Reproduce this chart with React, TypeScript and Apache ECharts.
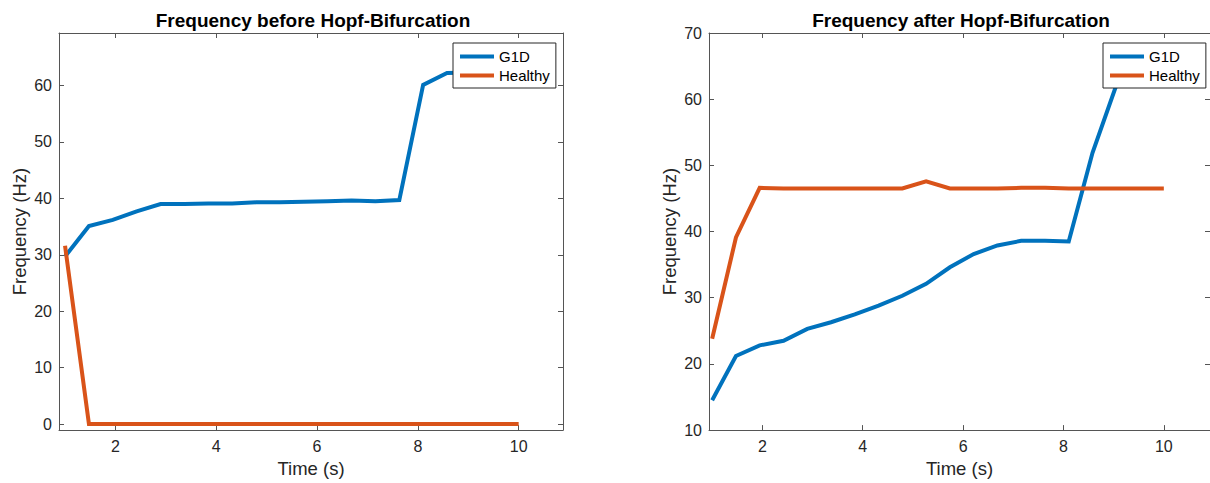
import React, { useEffect, useRef } from "react";
import * as echarts from "echarts";

// Time samples (s)
const timeValues = [1, 1.474, 1.947, 2.421, 2.895, 3.368, 3.842, 4.316, 4.789, 5.263, 5.737, 6.211, 6.684, 7.158, 7.632, 8.105, 8.579, 9.053, 9.526, 10];

// Frequency before Hopf-Bifurcation (Hz)
const beforeG1D = [29.7, 35.1, 36.2, 37.7, 39.0, 39.0, 39.1, 39.1, 39.3, 39.3, 39.4, 39.5, 39.6, 39.5, 39.7, 60.1, 62.2, 62.3, 62.3, 62.3];
const beforeHealthy = [31.6, 0, 0, 0, 0, 0, 0, 0, 0, 0, 0, 0, 0, 0, 0, 0, 0, 0, 0, 0];

// Frequency after Hopf-Bifurcation (Hz)
const afterG1D = [14.5, 21.2, 22.8, 23.5, 25.3, 26.3, 27.5, 28.8, 30.3, 32.1, 34.6, 36.6, 37.9, 38.6, 38.6, 38.5, 51.9, 62.1, 62.1, 62.0];
const afterHealthy = [23.8, 39.1, 46.6, 46.5, 46.5, 46.5, 46.5, 46.5, 46.5, 47.6, 46.5, 46.5, 46.5, 46.6, 46.6, 46.5, 46.5, 46.5, 46.5, 46.5];

// Tick labels
const xTicks = [2, 4, 6, 8, 10];
const beforeYTicks = [0, 10, 20, 30, 40, 50, 60];
const afterYTicks = [10, 20, 30, 40, 50, 60, 70];

const titles = ["Frequency before Hopf-Bifurcation", "Frequency after Hopf-Bifurcation"];
const seriesNames = ["G1D", "Healthy"];

const FONT = "'Liberation Sans', Arial, Helvetica, sans-serif";
const TEXT = "#262626";
const AXIS = "#555555";
const BLUE = "#0072BD";
const ORANGE = "#D95319";

const pairs = (ys: number[]) => ys.map((y, i) => [timeValues[i], y]);

function xAxes(grid: number, min: number, max: number) {
  const common = {
    type: "value",
    gridIndex: grid,
    min,
    max,
    splitLine: { show: false },
    axisLine: { show: true, onZero: false, lineStyle: { color: AXIS, width: 1 } },
    axisTick: { show: true, inside: true, length: 5, customValues: xTicks, lineStyle: { color: AXIS, width: 1 } },
  };
  return [
    {
      ...common,
      position: "bottom",
      axisLabel: { customValues: xTicks, color: TEXT, fontSize: 16, fontFamily: FONT, margin: 8 },
      name: "Time (s)",
      nameLocation: "middle",
      nameGap: 28,
      nameTextStyle: { color: TEXT, fontSize: 18.5, fontFamily: FONT },
    },
    { ...common, position: "top", axisLabel: { show: false } },
  ];
}

function yAxes(grid: number, min: number, max: number, ticks: number[]) {
  const common = {
    type: "value",
    gridIndex: grid,
    min,
    max,
    splitLine: { show: false },
    axisLine: { show: true, onZero: false, lineStyle: { color: AXIS, width: 1 } },
    axisTick: { show: true, inside: true, length: 5, customValues: ticks, lineStyle: { color: AXIS, width: 1 } },
  };
  return [
    {
      ...common,
      position: "left",
      axisLabel: { customValues: ticks, color: TEXT, fontSize: 16, fontFamily: FONT, margin: 7 },
      name: "Frequency (Hz)",
      nameLocation: "middle",
      nameGap: 30,
      nameTextStyle: { color: TEXT, fontSize: 18.5, fontFamily: FONT },
    },
    { ...common, position: "right", axisLabel: { show: false } },
  ];
}

function legend(left: number) {
  return {
    data: seriesNames,
    orient: "vertical",
    left,
    top: 43,
    itemWidth: 34,
    itemHeight: 14,
    itemGap: 4,
    padding: [6, 6, 5, 5],
    backgroundColor: "#ffffff",
    borderColor: "#262626",
    borderWidth: 1,
    borderRadius: 0,
    selectedMode: false,
    itemStyle: { opacity: 0 },
    lineStyle: { width: 4 },
    textStyle: { color: "#000", fontSize: 15, fontFamily: FONT },
    z: 10,
  };
}

function lineSeries(name: string, color: string, data: number[], axisBase: number) {
  return {
    type: "line",
    name,
    data: pairs(data),
    xAxisIndex: axisBase,
    yAxisIndex: axisBase,
    symbol: "none",
    showSymbol: false,
    lineStyle: { color, width: 4, join: "miter" },
    itemStyle: { color },
    z: 3,
  };
}

export default function App() {
  const ref = useRef<HTMLDivElement>(null);

  useEffect(() => {
    document.body.style.margin = "0";
    if (!ref.current) return;
    const chart = echarts.init(ref.current, null, { renderer: "svg" });

    const option = {
      animation: false,
      backgroundColor: "#ffffff",
      textStyle: { fontFamily: FONT },
      grid: [
        { left: 59, top: 33, width: 504, height: 399, containLabel: false },
        { left: 709, top: 33, width: 504, height: 399, containLabel: false },
      ],
      xAxis: [...xAxes(0, 0.88, 10.88), ...xAxes(1, 0.937, 10.92)],
      yAxis: [...yAxes(0, -1.06, 69.3, beforeYTicks), ...yAxes(1, 10, 70, afterYTicks)],
      legend: [legend(453), legend(1103)],
      graphic: [
        {
          type: "text",
          x: 313,
          y: 20,
          style: { text: titles[0], align: "center", verticalAlign: "middle", fill: "#000", font: `bold 19px ${FONT}` },
        },
        {
          type: "text",
          x: 961,
          y: 20,
          style: { text: titles[1], align: "center", verticalAlign: "middle", fill: "#000", font: `bold 19px ${FONT}` },
        },
      ],
      series: [
        lineSeries(seriesNames[0], BLUE, beforeG1D, 0),
        lineSeries(seriesNames[1], ORANGE, beforeHealthy, 0),
        lineSeries(seriesNames[0], BLUE, afterG1D, 2),
        lineSeries(seriesNames[1], ORANGE, afterHealthy, 2),
      ],
    };

    chart.setOption(option as any);
    return () => chart.dispose();
  }, []);

  return <div ref={ref} style={{ width: 1210, height: 483 }} />;
}
